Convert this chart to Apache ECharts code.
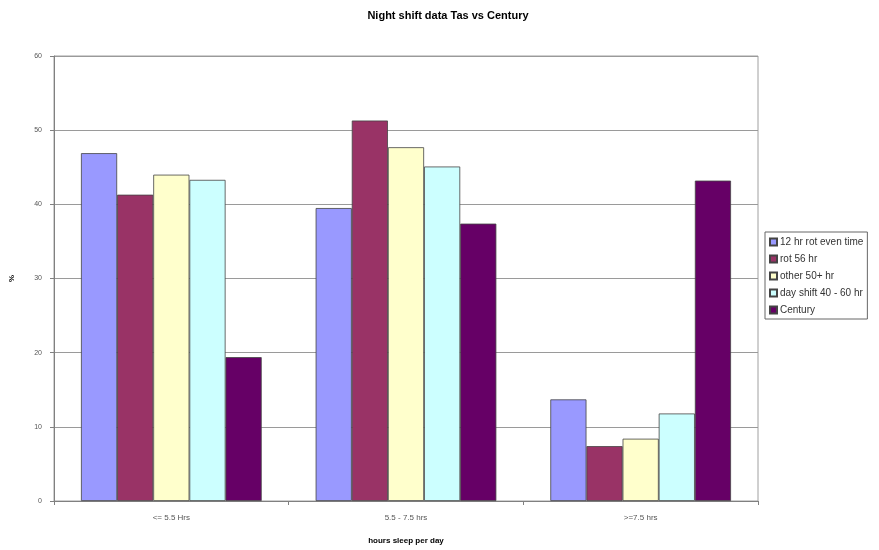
<!DOCTYPE html>
<html>
<head>
<meta charset="utf-8">
<script src="https://cdn.jsdelivr.net/npm/echarts@6/dist/echarts.min.js"></script>
<style>
  html, body { margin: 0; padding: 0; background: #fff; }
  #chart { width: 879px; height: 550px; }
</style>
</head>
<body>
<div id="chart"></div>
<script>
// Sleep-hour categories on the x axis
const categories = ['<= 5.5 Hrs', '5.5 - 7.5 hrs', '>=7.5 hrs'];

// Percentage of workers per shift pattern
const seriesNames = ['12 hr rot even time', 'rot 56 hr', 'other 50+ hr', 'day shift 40 - 60 hr', 'Century'];
const rotEvenTime = [46.9, 39.5, 13.7];
const rot56 = [41.3, 51.3, 7.4];
const other50 = [44.0, 47.7, 8.4];
const dayShift = [43.3, 45.1, 11.8];
const century = [19.4, 37.4, 43.2];

const seriesValues = [rotEvenTime, rot56, other50, dayShift, century];
const seriesColors = ['#9999FF', '#993366', '#FFFFCC', '#CCFFFF', '#660066'];

const chart = echarts.init(document.getElementById('chart'), null, { renderer: 'canvas' });

chart.setOption({
  animation: false,
  backgroundColor: '#ffffff',
  title: {
    text: 'Night shift data Tas vs Century',
    left: 443,
    textAlign: 'center',
    top: 5,
    textStyle: { fontFamily: 'Liberation Sans, Arial, sans-serif', fontSize: 11, fontWeight: 'bold', color: '#000' }
  },
  legend: {
    orient: 'vertical',
    left: 765,
    top: 232,
    padding: [5, 4, 4, 4],
    itemWidth: 7,
    itemHeight: 7,
    itemGap: 7,
    borderColor: '#666',
    borderWidth: 1,
    icon: 'rect',
    data: seriesNames,
    textStyle: { fontFamily: 'Liberation Sans, Arial, sans-serif', fontSize: 10, lineHeight: 10, color: '#333', padding: [0, 0, 0, -2] }
  },
  grid: {
    left: 54,
    right: 121,
    top: 56,
    bottom: 48,
    show: true,
    borderColor: '#a0a0a0',
    borderWidth: 1,
    backgroundColor: 'transparent'
  },
  xAxis: {
    type: 'category',
    data: categories,
    name: 'hours sleep per day',
    nameLocation: 'middle',
    nameGap: 36,
    nameTextStyle: { fontFamily: 'Liberation Sans, Arial, sans-serif', fontSize: 8, fontWeight: 'bold', color: '#000' },
    axisLine: { lineStyle: { color: '#808080', width: 1 } },
    axisTick: { show: true, length: 4, inside: false, lineStyle: { color: '#808080' } },
    axisLabel: { fontFamily: 'Liberation Sans, Arial, sans-serif', fontSize: 8, color: '#555', margin: 13 }
  },
  yAxis: {
    type: 'value',
    min: 0,
    max: 60,
    interval: 10,
    name: '%',
    nameLocation: 'middle',
    nameGap: 38,
    nameRotate: 90,
    nameTextStyle: { fontFamily: 'Liberation Sans, Arial, sans-serif', fontSize: 8, fontWeight: 'bold', color: '#000' },
    axisLine: { show: true, lineStyle: { color: '#808080', width: 1 } },
    axisTick: { show: true, length: 4, lineStyle: { color: '#808080' } },
    axisLabel: { fontFamily: 'Liberation Sans, Arial, sans-serif', fontSize: 7, color: '#555', margin: 12 },
    splitLine: { show: true, lineStyle: { color: '#9a9a9a', width: 1 } }
  },
  series: seriesNames.map((name, i) => ({
    name: name,
    type: 'bar',
    data: seriesValues[i],
    barGap: '0%',
    barCategoryGap: '23%',
    itemStyle: { color: seriesColors[i], borderColor: '#444', borderWidth: 0.8 }
  }))
});
</script>
</body>
</html>
